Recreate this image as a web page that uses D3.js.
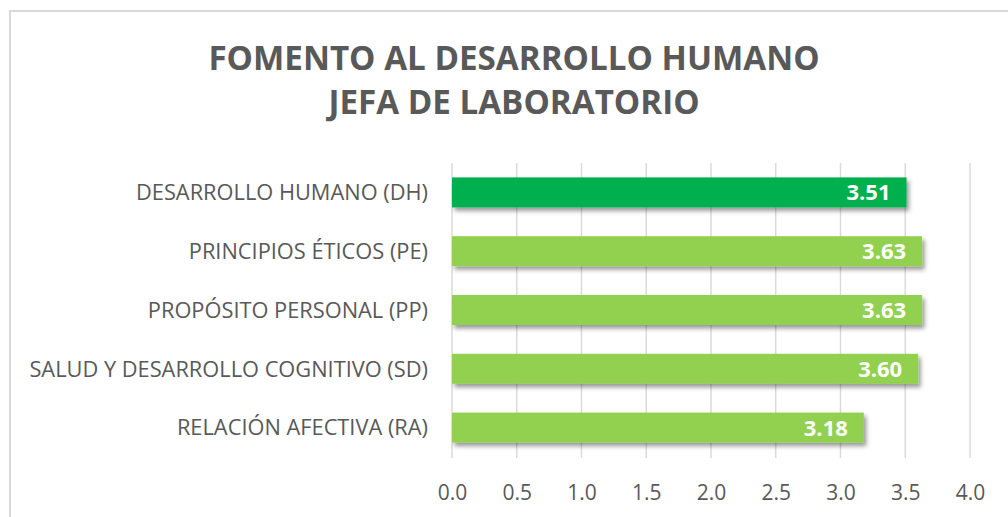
<!DOCTYPE html>
<html>
<head>
<meta charset="utf-8">
<script src="https://cdn.jsdelivr.net/npm/d3@7"></script>
<style>
  html, body { margin: 0; padding: 0; background: #ffffff; }
  svg { display: block; }
</style>
</head>
<body>
<script>
// Chart data
const titleLines = ["FOMENTO AL DESARROLLO HUMANO", "JEFA DE LABORATORIO"];
const categories = [
  "DESARROLLO HUMANO (DH)",
  "PRINCIPIOS ÉTICOS (PE)",
  "PROPÓSITO PERSONAL (PP)",
  "SALUD Y DESARROLLO COGNITIVO (SD)",
  "RELACIÓN AFECTIVA (RA)"
];
const values = [3.51, 3.63, 3.63, 3.60, 3.18];
const tickValues = [0, 0.5, 1, 1.5, 2, 2.5, 3, 3.5, 4];
const highlighted = ["DESARROLLO HUMANO (DH)"];

const W = 1008, H = 517;
const margin = { top: 163, right: 38, bottom: 60, left: 452 };
const textColor = "#595959";
const font = "'Open Sans', 'Noto Sans', sans-serif";

const svg = d3.select("body").append("svg")
  .attr("width", W).attr("height", H);

// Drop shadow for bars
const defs = svg.append("defs");
const f = defs.append("filter").attr("id", "barShadow")
  .attr("x", "-5%").attr("y", "-30%").attr("width", "115%").attr("height", "180%");
f.append("feDropShadow")
  .attr("dx", 2.5).attr("dy", 3.5).attr("stdDeviation", 2.2)
  .attr("flood-color", "#000").attr("flood-opacity", 0.4);

// Chart area frame
svg.append("rect")
  .attr("x", 10).attr("y", 11)
  .attr("width", W + 20).attr("height", H + 20)
  .attr("fill", "#fff")
  .attr("stroke", "#d9d9d9").attr("stroke-width", 2);

const x = d3.scaleLinear().domain([0, 4]).range([margin.left, W - margin.right]);
const y = d3.scaleBand().domain(categories)
  .range([margin.top, H - margin.bottom])
  .paddingInner(0.49).paddingOuter(0.245);

// Title
svg.append("g")
  .attr("font-family", font).attr("font-weight", 700)
  .attr("font-size", 33.2).attr("fill", textColor)
  .attr("text-anchor", "middle")
  .selectAll("text").data(titleLines).join("text")
  .attr("x", 514)
  .attr("y", (d, i) => 70 + i * 44)
  .text(d => d);

// Vertical gridlines
svg.append("g").selectAll("line").data(tickValues).join("line")
  .attr("x1", d => x(d)).attr("x2", d => x(d))
  .attr("y1", margin.top).attr("y2", H - margin.bottom + 1)
  .attr("stroke", "#d9d9d9").attr("stroke-width", 1.4);

// X axis tick labels
const xAxis = d3.axisBottom(x).tickValues(tickValues)
  .tickFormat(d3.format(".1f")).tickSize(0).tickPadding(0);
const gx = svg.append("g")
  .attr("transform", `translate(0, ${H - margin.bottom})`)
  .call(xAxis);
gx.select(".domain").remove();
gx.selectAll("text")
  .attr("y", 43).attr("dy", null)
  .attr("font-family", font).attr("font-size", 21)
  .attr("fill", textColor);

// Y axis category labels
const yAxis = d3.axisLeft(y).tickSize(0).tickPadding(0);
const gy = svg.append("g")
  .attr("transform", `translate(${margin.left - 24}, 0)`)
  .call(yAxis);
gy.select(".domain").remove();
gy.selectAll("text")
  .attr("dy", "0.36em")
  .attr("font-family", font).attr("font-size", 21.8)
  .attr("fill", textColor);

// Bars
svg.append("g").selectAll("rect").data(categories).join("rect")
  .attr("x", x(0))
  .attr("y", d => y(d))
  .attr("width", (d, i) => x(values[i]) - x(0))
  .attr("height", y.bandwidth())
  .attr("fill", d => highlighted.includes(d) ? "#00b050" : "#92d050")
  .attr("filter", "url(#barShadow)");

// Value labels inside bar ends
svg.append("g").selectAll("text").data(categories).join("text")
  .attr("x", (d, i) => x(values[i]) - 16)
  .attr("y", d => y(d) + y.bandwidth() / 2)
  .attr("dy", "0.36em")
  .attr("text-anchor", "end")
  .attr("font-family", font).attr("font-weight", 700).attr("font-size", 22)
  .attr("fill", "#ffffff")
  .text((d, i) => d3.format(".2f")(values[i]));
</script>
</body>
</html>
